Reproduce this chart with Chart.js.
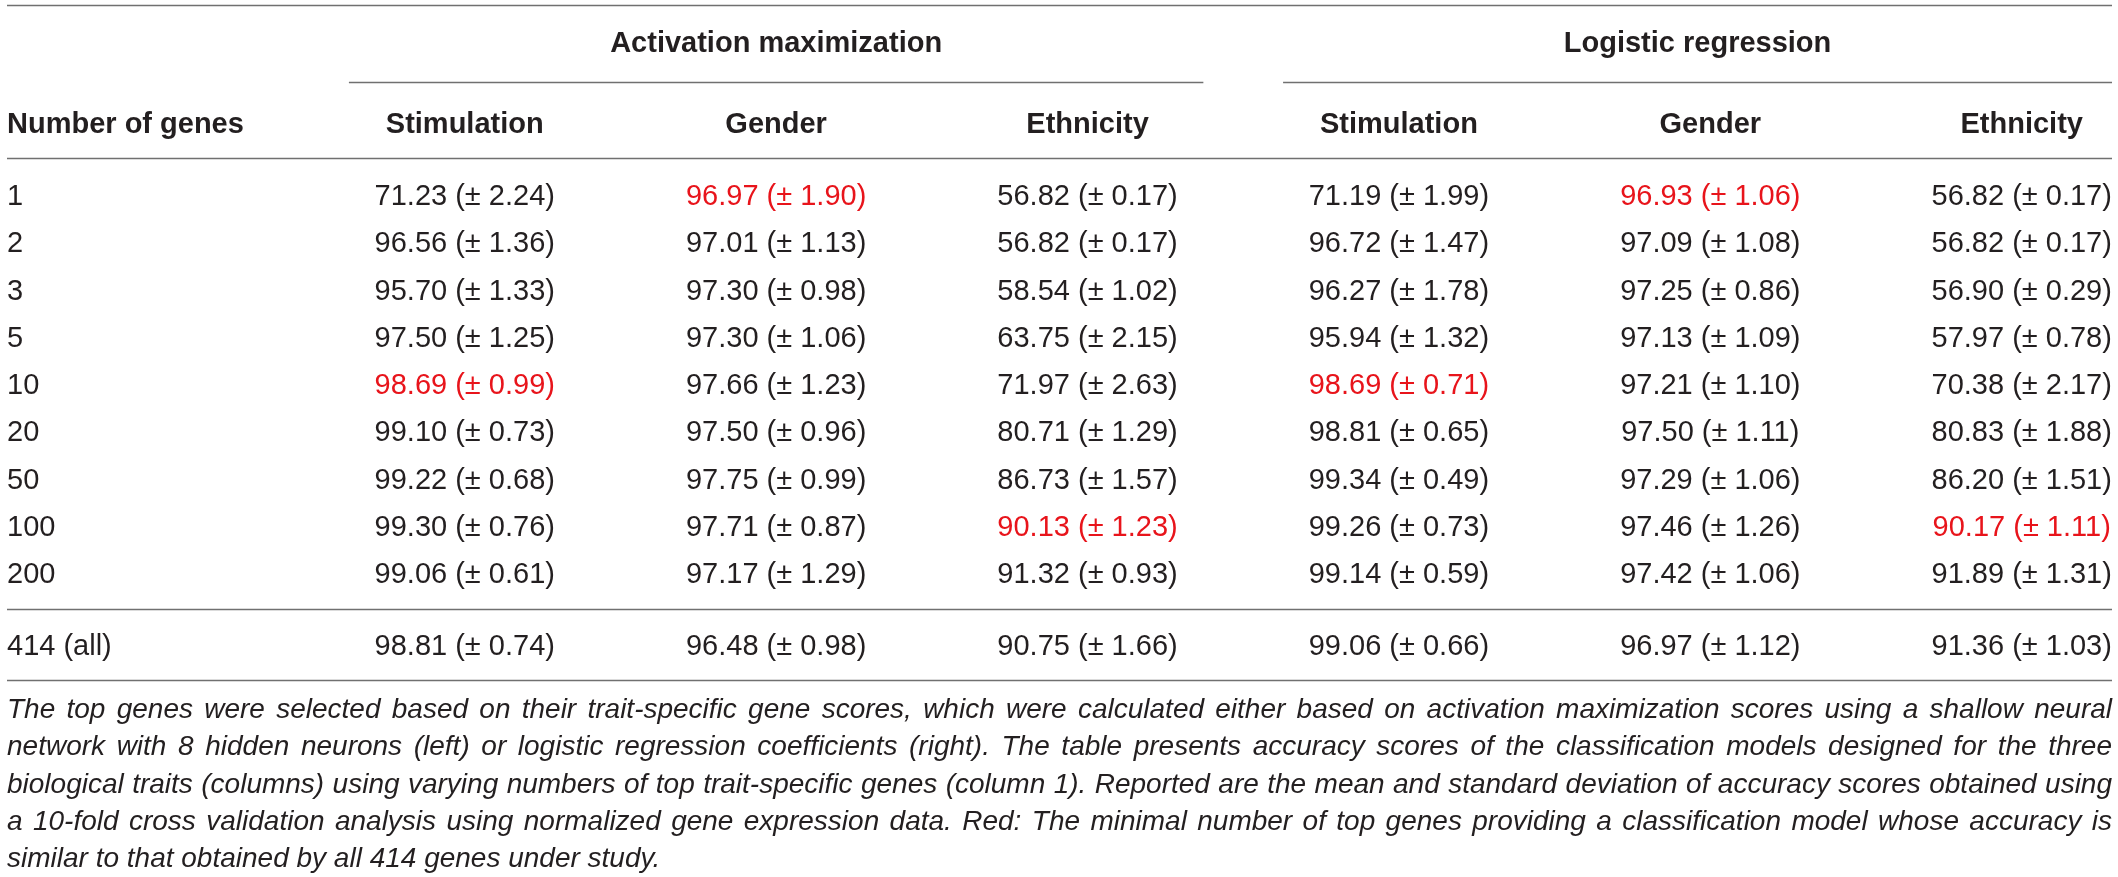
<!DOCTYPE html>
<html lang="en">
  <head>
    <meta charset="UTF-8" />
    <meta name="viewport" content="width=device-width, initial-scale=1.0" />
    <title>Accuracy by number of top genes</title>
    <script src="https://cdn.jsdelivr.net/npm/chart.js@4.4.1/dist/chart.umd.min.js"></script>
    <style>
      html, body { margin: 0; padding: 0; background: #fff; }
      #wrap { width: 2118px; height: 877px; }
    </style>
  </head>
  <body>
    <!-- the whole table is drawn on one canvas -->
    <div id="wrap"><canvas id="table-chart"></canvas></div>

    <script>
      // ---- table data ----
      const firstColumnTitle = 'Number of genes';
      const geneCounts = ['1', '2', '3', '5', '10', '20', '50', '100', '200', '414 (all)'];
      const methods = ['Activation maximization', 'Logistic regression'];
      const traits = ['Stimulation', 'Gender', 'Ethnicity'];

      // activation maximization
      const amStimulation   = [71.23, 96.56, 95.70, 97.50, 98.69, 99.10, 99.22, 99.30, 99.06, 98.81];
      const amStimulationSd = [2.24, 1.36, 1.33, 1.25, 0.99, 0.73, 0.68, 0.76, 0.61, 0.74];
      const amGender        = [96.97, 97.01, 97.30, 97.30, 97.66, 97.50, 97.75, 97.71, 97.17, 96.48];
      const amGenderSd      = [1.90, 1.13, 0.98, 1.06, 1.23, 0.96, 0.99, 0.87, 1.29, 0.98];
      const amEthnicity     = [56.82, 56.82, 58.54, 63.75, 71.97, 80.71, 86.73, 90.13, 91.32, 90.75];
      const amEthnicitySd   = [0.17, 0.17, 1.02, 2.15, 2.63, 1.29, 1.57, 1.23, 0.93, 1.66];

      // logistic regression
      const lrStimulation   = [71.19, 96.72, 96.27, 95.94, 98.69, 98.81, 99.34, 99.26, 99.14, 99.06];
      const lrStimulationSd = [1.99, 1.47, 1.78, 1.32, 0.71, 0.65, 0.49, 0.73, 0.59, 0.66];
      const lrGender        = [96.93, 97.09, 97.25, 97.13, 97.21, 97.50, 97.29, 97.46, 97.42, 96.97];
      const lrGenderSd      = [1.06, 1.08, 0.86, 1.09, 1.10, 1.11, 1.06, 1.26, 1.06, 1.12];
      const lrEthnicity     = [56.82, 56.82, 56.90, 57.97, 70.38, 80.83, 86.20, 90.17, 91.89, 91.36];
      const lrEthnicitySd   = [0.17, 0.17, 0.29, 0.78, 2.17, 1.88, 1.51, 1.11, 1.31, 1.03];

      // row shown in red for each value column (minimal number of genes)
      const redRows = [4, 0, 7, 4, 0, 7];

      const captionLines = [
        'The top genes were selected based on their trait-specific gene scores, which were calculated either based on activation maximization scores using a shallow neural',
        'network with 8 hidden neurons (left) or logistic regression coefficients (right). The table presents accuracy scores of the classification models designed for the three',
        'biological traits (columns) using varying numbers of top trait-specific genes (column 1). Reported are the mean and standard deviation of accuracy scores obtained using',
        'a 10-fold cross validation analysis using normalized gene expression data. Red: The minimal number of top genes providing a classification model whose accuracy is',
        'similar to that obtained by all 414 genes under study.',
      ];

      // ---- layout (in scale units: x = column, y = row) ----
      const X_MIN = -0.47, X_MAX = 6.29;
      const Y_MIN = -4.127, Y_MAX = 14.43;
      const TOP_RULE = -4.02, GROUP_TITLE = -3.24, GROUP_RULE = -2.39;
      const HEADER_ROW = -1.524, HEADER_RULE = -0.783;
      const SUMMARY_GAP = 0.52;          // extra space before the "all genes" row
      const GROUP_HALF_GAP = 0.372;      // how far group rules reach past the outer columns
      const CAPTION_TOP = 10.86, CAPTION_STEP = 0.79;

      const TEXT = '#231f20';
      const RED = '#e8141b';
      const RULE = '#707070';
      const FONT = '"Liberation Sans", Arial, Helvetica, sans-serif';

      const rowY = (i) => (i < geneCounts.length - 1 ? i : i + SUMMARY_GAP);
      const lastRow = rowY(geneCounts.length - 1);

      const valueColumns = [
        { mean: amStimulation, sd: amStimulationSd },
        { mean: amGender, sd: amGenderSd },
        { mean: amEthnicity, sd: amEthnicitySd },
        { mean: lrStimulation, sd: lrStimulationSd },
        { mean: lrGender, sd: lrGenderSd },
        { mean: lrEthnicity, sd: lrEthnicitySd },
      ];

      const cellText = (col, i) => `${col.mean[i].toFixed(2)} (\u00b1 ${col.sd[i].toFixed(2)})`;

      // one invisible point per cell, the plugin writes the text at it
      const datasets = [
        {
          label: firstColumnTitle,
          data: geneCounts.map((g, i) => ({ x: X_MIN, y: rowY(i) })),
          texts: geneCounts,
          align: 'left',
        },
      ];
      valueColumns.forEach((col, c) => {
        datasets.push({
          label: methods[Math.floor(c / 3)] + ' - ' + traits[c % 3],
          data: col.mean.map((m, i) => ({ x: c + 1, y: rowY(i) })),
          texts: col.mean.map((m, i) => cellText(col, i)),
          red: redRows[c],
          align: 'center',
        });
      });

      function baseline(y, size) {
        return y + size * 0.35; // put the middle of the capitals on the row
      }

      function drawJustified(ctx, text, left, right, y, justify) {
        if (!justify) {
          ctx.textAlign = 'left';
          ctx.fillText(text, left, y);
          return;
        }
        const words = text.split(' ');
        const space = ctx.measureText(' ').width;
        const widths = words.map((w) => ctx.measureText(w).width);
        const wordsWidth = widths.reduce((s, w) => s + w, 0);
        const avail = right - left;
        let gap = (avail - wordsWidth) / (words.length - 1);
        let squeeze = 1;
        if (gap < space * 0.7) {
          gap = space * 0.7;
          squeeze = avail / (wordsWidth + gap * (words.length - 1));
        }
        ctx.save();
        ctx.translate(left, y);
        ctx.scale(squeeze, 1);
        ctx.textAlign = 'left';
        let x = 0;
        words.forEach((w, k) => {
          ctx.fillText(w, x, 0);
          x += widths[k] + gap;
        });
        ctx.restore();
      }

      const tablePlugin = {
        id: 'tableText',
        afterDatasetsDraw(chart) {
          const { ctx, chartArea, scales } = chart;
          const xs = scales.x, ys = scales.y;
          ctx.save();

          // horizontal rules
          ctx.strokeStyle = RULE;
          ctx.lineWidth = 1.3;
          const hline = (x1, x2, v) => {
            const py = Math.round(ys.getPixelForValue(v)) + 0.5;
            ctx.beginPath();
            ctx.moveTo(x1, py);
            ctx.lineTo(x2, py);
            ctx.stroke();
          };
          hline(chartArea.left, chartArea.right, TOP_RULE);
          hline(chartArea.left, chartArea.right, HEADER_RULE);
          hline(chartArea.left, chartArea.right, (rowY(geneCounts.length - 2) + lastRow) / 2);
          hline(chartArea.left, chartArea.right, lastRow + (lastRow - rowY(geneCounts.length - 2)) / 2 - 0.02);

          // group titles with their rules
          ctx.fillStyle = TEXT;
          ctx.font = `bold 29px ${FONT}`;
          ctx.textAlign = 'center';
          methods.forEach((m, g) => {
            const first = g * 3 + 1, last = g * 3 + 3;
            const x1 = xs.getPixelForValue(first - GROUP_HALF_GAP);
            const x2 = Math.min(xs.getPixelForValue(last + GROUP_HALF_GAP), chartArea.right);
            hline(x1, x2, GROUP_RULE);
            ctx.fillText(m, (x1 + x2) / 2, baseline(ys.getPixelForValue(GROUP_TITLE), 29));
          });

          // column headers
          ctx.font = `bold 29px ${FONT}`;
          const hy = baseline(ys.getPixelForValue(HEADER_ROW), 29);
          ctx.textAlign = 'left';
          ctx.fillText(firstColumnTitle, xs.getPixelForValue(X_MIN), hy);
          ctx.textAlign = 'center';
          valueColumns.forEach((col, c) => {
            ctx.fillText(traits[c % 3], xs.getPixelForValue(c + 1), hy);
          });

          // cells, placed at the dataset points
          ctx.font = `29px ${FONT}`;
          chart.data.datasets.forEach((ds, d) => {
            const meta = chart.getDatasetMeta(d);
            ctx.textAlign = ds.align;
            meta.data.forEach((pt, i) => {
              ctx.fillStyle = ds.red === i ? RED : TEXT;
              ctx.fillText(ds.texts[i], pt.x, baseline(pt.y, 29));
            });
          });

          // caption
          ctx.fillStyle = TEXT;
          ctx.font = `italic 28px ${FONT}`;
          captionLines.forEach((line, k) => {
            const py = baseline(ys.getPixelForValue(CAPTION_TOP + k * CAPTION_STEP), 28);
            drawJustified(ctx, line, chartArea.left, chartArea.right, py, k < captionLines.length - 1);
          });

          ctx.restore();
        },
      };

      new Chart(document.getElementById('table-chart'), {
        type: 'scatter',
        data: { datasets },
        options: {
          responsive: true,
          maintainAspectRatio: false,
          animation: false,
          events: [],
          layout: { padding: { left: 7, right: 6, top: 0, bottom: 0 } },
          elements: { point: { radius: 0, hoverRadius: 0 } },
          plugins: {
            legend: { display: false },
            tooltip: { enabled: false },
          },
          scales: {
            x: { type: 'linear', min: X_MIN, max: X_MAX, display: false },
            y: { type: 'linear', min: Y_MIN, max: Y_MAX, reverse: true, display: false },
          },
        },
        plugins: [tablePlugin],
      });
    </script>
  </body>
</html>
